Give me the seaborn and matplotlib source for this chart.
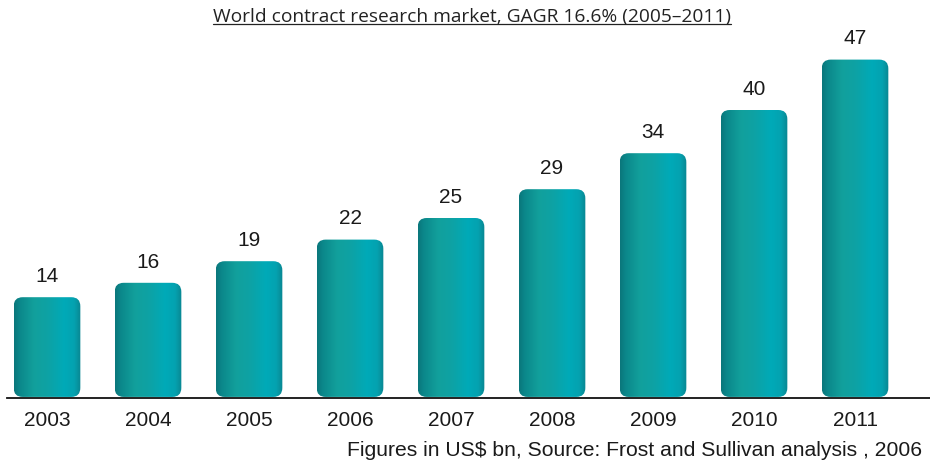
import numpy as np
import pandas as pd
import matplotlib
matplotlib.use("Agg")
import matplotlib.pyplot as plt
import seaborn as sns
from matplotlib.patches import FancyBboxPatch
from matplotlib.colors import LinearSegmentedColormap
from matplotlib.lines import Line2D

years = ["2003", "2004", "2005", "2006", "2007", "2008", "2009", "2010", "2011"]
market = [14, 16, 19, 22, 25, 29, 34, 40, 47]
title = "World contract research market, GAGR 16.6% (2005\u20132011)"
source = "Figures in US$ bn, Source: Frost and Sullivan analysis , 2006"

sns.set_theme(style="white")
plt.rcParams["font.family"] = ["Liberation Sans", "DejaVu Sans"]

df = pd.DataFrame({"year": years, "value": market})

fig = plt.figure(figsize=(9.3, 4.62), dpi=100)
ax = fig.add_axes([7 / 930, 64 / 462, 923 / 930, 368 / 462])

sns.barplot(data=df, x="year", y="value", color="#0a9a9a", width=0.66,
            saturation=1, ax=ax)

# horizontal teal gradient used to fill each bar
shade = LinearSegmentedColormap.from_list(
    "teal", [(0.0, "#0a767b"), (0.08, "#0b878a"), (0.3, "#12a09c"),
             (0.5, "#0ea2a4"), (0.75, "#00aab8"), (0.9, "#04a2b0"),
             (1.0, "#0a8691")])
grad = np.linspace(0, 1, 256).reshape(1, -1)

px_x = 101.0           # pixels per category unit
px_y = 7.2             # pixels per value unit
radius_px = 9.0
for patch in list(ax.patches):
    x0, y0 = patch.get_x(), patch.get_y()
    w, h = patch.get_width(), patch.get_height()
    patch.set_visible(False)
    r = radius_px / px_x
    clip = FancyBboxPatch((x0, y0 + 0.15), w, h - 0.15,
                          boxstyle=f"round,pad=0,rounding_size={r}",
                          mutation_aspect=px_x / px_y,
                          facecolor="none", edgecolor="none",
                          transform=ax.transData)
    ax.add_patch(clip)
    im = ax.imshow(grad, cmap=shade, aspect="auto",
                   extent=[x0, x0 + w, y0, y0 + h], zorder=2,
                   interpolation="bicubic")
    im.set_clip_path(clip)
    ax.annotate(f"{h:g}", (x0 + w / 2, h), xytext=(0, 8),
                textcoords="offset points", ha="center", va="bottom",
                fontsize=15, color="#1a1a1a")

ax.set_xlim(-40 / 101, (930 - 47) / 101)
ax.set_ylim(0, 368 / px_y)
ax.set_xlabel("")
ax.set_ylabel("")
ax.set_yticks([])
for s in ["top", "right", "left"]:
    ax.spines[s].set_visible(False)
ax.spines["bottom"].set_color("#111111")
ax.spines["bottom"].set_linewidth(1.3)
ax.tick_params(axis="x", length=0, pad=9, labelsize=15, colors="#1a1a1a")

t = fig.text(472 / 930, 1 - 17 / 462, title, ha="center", va="center",
             fontsize=13.8, color="#222222", family=["Open Sans", "DejaVu Sans"])
fig.text(922 / 930, 1 - 451 / 462, source, ha="right", va="center",
         fontsize=15.2, color="#1a1a1a")

# underline the title
fig.canvas.draw()
bb = t.get_window_extent(renderer=fig.canvas.get_renderer())
inv = fig.transFigure.inverted()
(bx0, by0), (bx1, by1) = inv.transform([[bb.x0, bb.y0], [bb.x1, bb.y1]])
fig.add_artist(Line2D([bx0, bx1], [by0 + 2 / 462, by0 + 2 / 462],
                      transform=fig.transFigure, color="#222222", lw=0.9))

fig.savefig("out.png", dpi=100)
